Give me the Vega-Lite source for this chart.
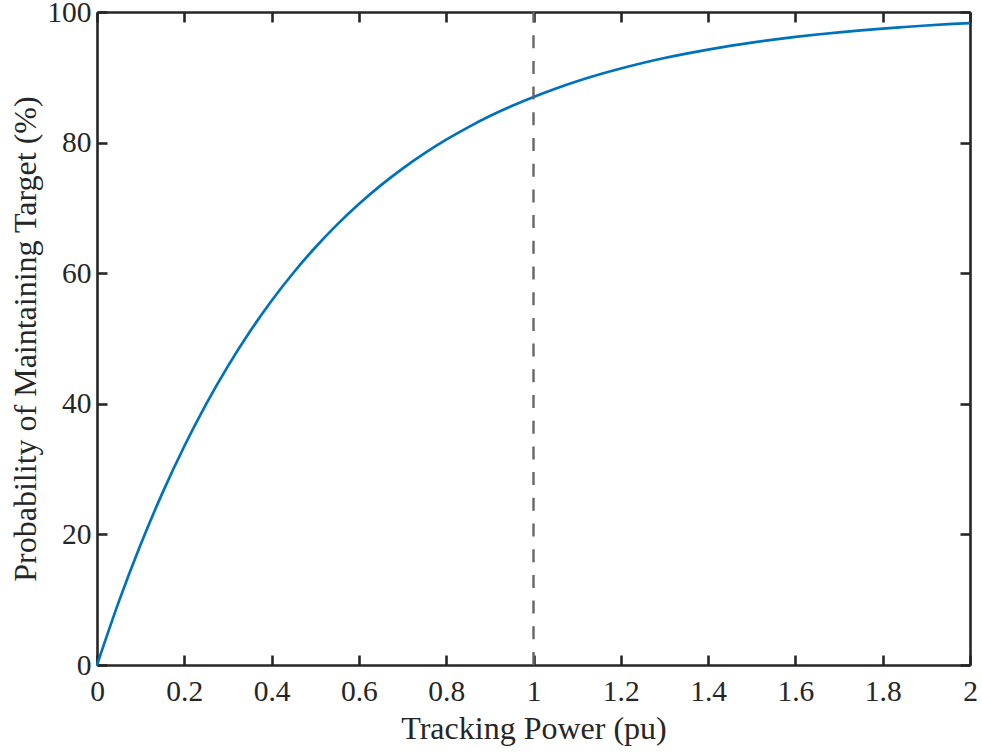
{
  "$schema": "https://vega.github.io/schema/vega-lite/v6.json",
  "width": 873,
  "height": 653,
  "autosize": {"type": "none"},
  "padding": {"left": 97, "top": 12, "right": 12, "bottom": 90},
  "background": "white",
  "config": {
    "view": {"stroke": null},
    "axis": {
      "grid": false,
      "domainColor": "#262626",
      "domainWidth": 2.6,
      "tickColor": "#262626",
      "tickWidth": 2.6,
      "tickSize": -10,
      "labelFont": "Liberation Serif",
      "labelFontSize": 29.5,
      "labelColor": "#262626",
      "titleFont": "Liberation Serif",
      "titleFontSize": 32,
      "titleFontWeight": "normal",
      "titleColor": "#262626",
      "labelFlush": false,
      "labelOverlap": false,
      "zindex": 1
    }
  },
  "layer": [
    {
      "data": {
        "values": [
          {"power": 0.0, "probability": 0.0},
          {"power": 0.05, "probability": 9.7},
          {"power": 0.1, "probability": 18.45},
          {"power": 0.15, "probability": 26.36},
          {"power": 0.2, "probability": 33.5},
          {"power": 0.25, "probability": 39.95},
          {"power": 0.3, "probability": 45.77},
          {"power": 0.35, "probability": 51.03},
          {"power": 0.4, "probability": 55.78},
          {"power": 0.45, "probability": 60.07},
          {"power": 0.5, "probability": 63.94},
          {"power": 0.55, "probability": 67.44},
          {"power": 0.6, "probability": 70.59},
          {"power": 0.65, "probability": 73.45},
          {"power": 0.7, "probability": 76.02},
          {"power": 0.75, "probability": 78.35},
          {"power": 0.8, "probability": 80.45},
          {"power": 0.85, "probability": 82.34},
          {"power": 0.9, "probability": 84.06},
          {"power": 0.95, "probability": 85.6},
          {"power": 1.0, "probability": 87.0},
          {"power": 1.05, "probability": 88.26},
          {"power": 1.1, "probability": 89.4},
          {"power": 1.15, "probability": 90.43},
          {"power": 1.2, "probability": 91.35},
          {"power": 1.25, "probability": 92.19},
          {"power": 1.3, "probability": 92.95},
          {"power": 1.35, "probability": 93.63},
          {"power": 1.4, "probability": 94.25},
          {"power": 1.45, "probability": 94.81},
          {"power": 1.5, "probability": 95.31},
          {"power": 1.55, "probability": 95.77},
          {"power": 1.6, "probability": 96.18},
          {"power": 1.65, "probability": 96.55},
          {"power": 1.7, "probability": 96.88},
          {"power": 1.75, "probability": 97.18},
          {"power": 1.8, "probability": 97.46},
          {"power": 1.85, "probability": 97.7},
          {"power": 1.9, "probability": 97.93},
          {"power": 1.95, "probability": 98.13},
          {"power": 2.0, "probability": 98.31}
        ]
      },
      "mark": {"type": "line", "color": "#0072BD", "strokeWidth": 2.7, "interpolate": "monotone"},
      "encoding": {
        "x": {
          "field": "power",
          "type": "quantitative",
          "scale": {"domain": [0, 2], "nice": false, "zero": false},
          "axis": {
            "orient": "bottom",
            "title": "Tracking Power (pu)",
            "values": [0, 0.2, 0.4, 0.6, 0.8, 1, 1.2, 1.4, 1.6, 1.8, 2],
            "format": "~g",
            "labelPadding": 22,
            "titlePadding": 8
          }
        },
        "y": {
          "field": "probability",
          "type": "quantitative",
          "scale": {"domain": [0, 100], "nice": false, "zero": false},
          "axis": {
            "orient": "left",
            "title": "Probability of Maintaining Target (%)",
            "values": [0, 20, 40, 60, 80, 100],
            "labelPadding": 16,
            "titlePadding": 4
          }
        }
      }
    },
    {
      "data": {"values": [{"power": 1, "low": 0, "high": 100}]},
      "mark": {"type": "rule", "color": "#666666", "strokeWidth": 2.4, "strokeDash": [13, 12.7]},
      "encoding": {
        "x": {
          "field": "power",
          "type": "quantitative",
          "axis": {
            "orient": "top",
            "title": null,
            "labels": false,
            "values": [0, 0.2, 0.4, 0.6, 0.8, 1, 1.2, 1.4, 1.6, 1.8, 2]
          }
        },
        "y": {
          "field": "low",
          "type": "quantitative",
          "axis": {
            "orient": "right",
            "title": null,
            "labels": false,
            "values": [0, 20, 40, 60, 80, 100]
          }
        },
        "y2": {"field": "high"}
      }
    }
  ],
  "resolve": {"axis": {"x": "independent", "y": "independent"}}
}
